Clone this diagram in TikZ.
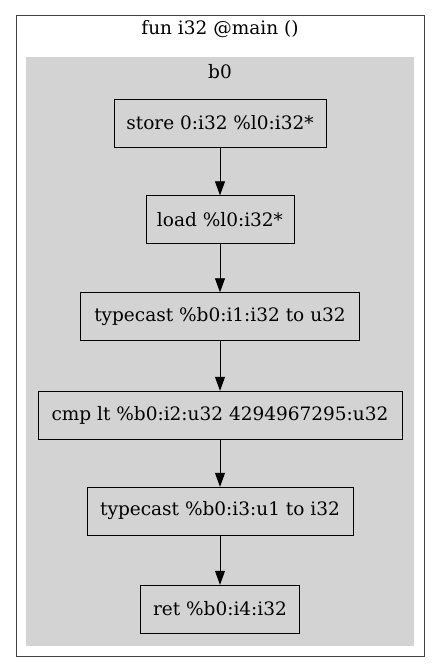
\documentclass[tikz,border=0pt]{standalone}
\usepackage{fontspec}
\setmainfont{DejaVu Serif}
\usetikzlibrary{arrows.meta}

\definecolor{clustergray}{gray}{0.827}
\tikzset{
  label text/.style={font=\fontsize{18.5}{21}\selectfont},
  instr/.style={rectangle, draw, fill=clustergray, minimum height=48pt, inner xsep=0pt, label text},
  flow/.style={-{Triangle[length=14pt,width=10pt]}, line width=0.8pt}
}

\begin{document}
\begin{tikzpicture} [x=1pt, y=-1pt]
\useasboundingbox (0, 0) rectangle (440, 672);
\draw[line width=0.9pt, draw=black!75] (16, 15) rectangle (424, 656);
\fill[clustergray] (26, 57) rectangle (414, 646);
\path (220, 29) node[label text] (fun) {fun i32 @main ()}
      (220, 72) node[label text] (blk) {b0};

\path (220, 123) node[instr, minimum width=212pt] (i0) {store 0:i32 \%l0:i32*}
      (220, 219.5) node[instr, minimum width=148pt] (i1) {load \%l0:i32*}
      (220, 316.5) node[instr, minimum width=279pt] (i2) {typecast \%b0:i1:i32 to u32}
      (220, 415) node[instr, minimum width=364pt] (i3) {cmp lt \%b0:i2:u32 4294967295:u32}
      (220, 511) node[instr, minimum width=266pt] (i4) {typecast \%b0:i3:u1 to i32}
      (220, 609) node[instr, minimum width=159pt] (i5) {ret \%b0:i4:i32};

\draw[flow] (i0) -- (i1);
\draw[flow] (i1) -- (i2);
\draw[flow] (i2) -- (i3);
\draw[flow] (i3) -- (i4);
\draw[flow] (i4) -- (i5);
\end{tikzpicture}
\end{document}
